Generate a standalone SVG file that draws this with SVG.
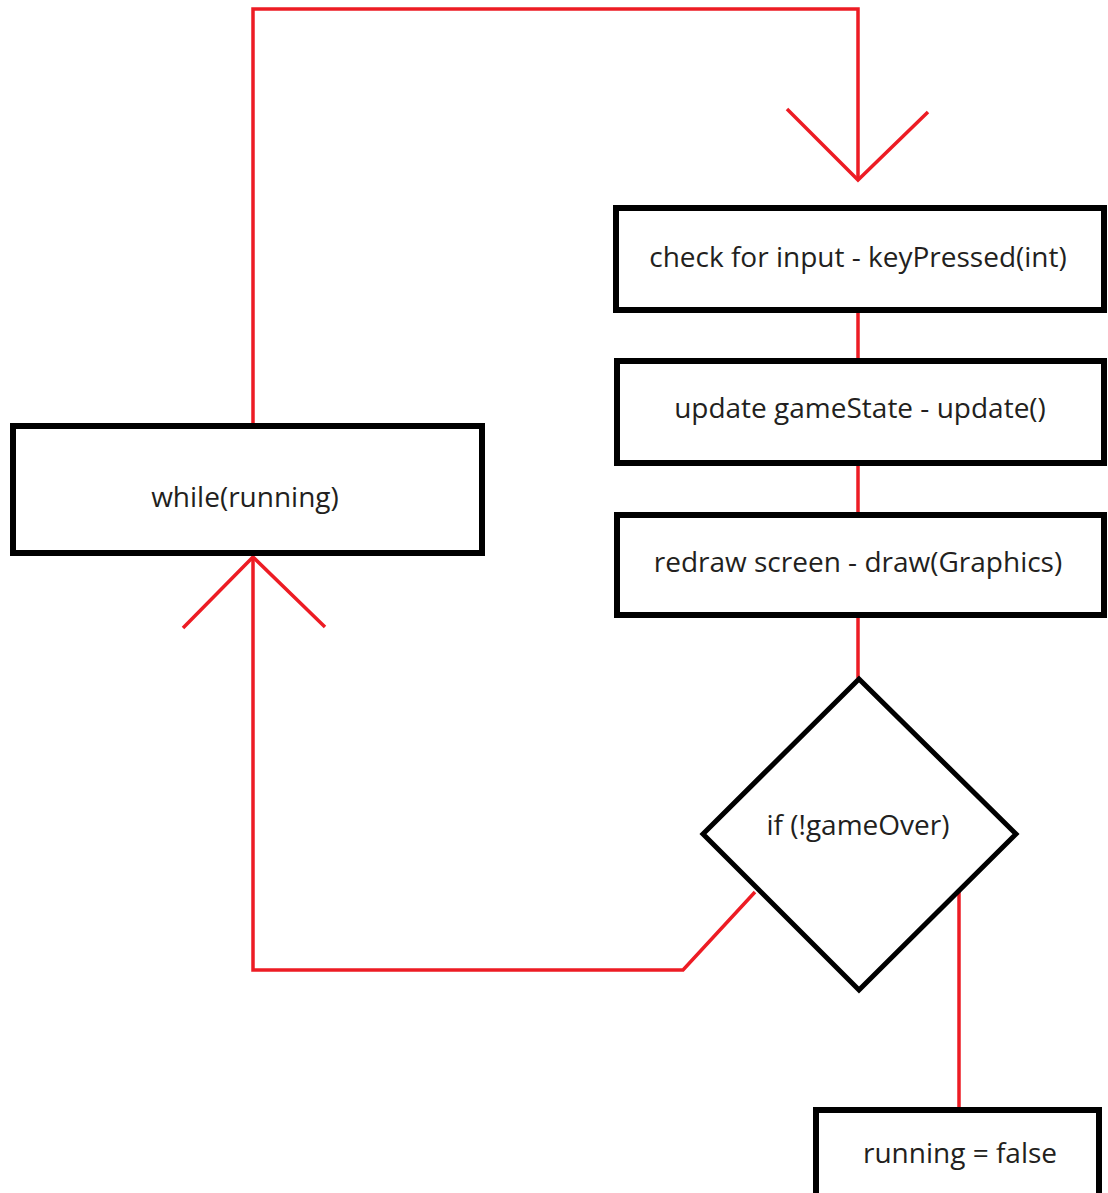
<svg xmlns="http://www.w3.org/2000/svg" width="1108" height="1193" viewBox="0 0 1108 1193">
<style>
.box{fill:#fff;stroke:#000;stroke-width:6}
.dia{fill:#fff;stroke:#000;stroke-width:5}
.lbl{font-family:"Open Sans","Liberation Sans",sans-serif;font-size:28px;fill:#231f20;text-anchor:middle}
.con{fill:none;stroke:#ed1c24;stroke-width:3.5}
</style>
<rect width="1108" height="1193" fill="#fff"/>
<g id="connectors">
<polyline class="con" points="253,426 253,9 858,9 858,180"/>
<polyline class="con" points="787,109 858,180 928,112"/>
<line class="con" x1="858" y1="310" x2="858" y2="361"/>
<line class="con" x1="858" y1="463" x2="858" y2="515"/>
<line class="con" x1="858" y1="615" x2="858" y2="678"/>
<polyline class="con" points="755,892 683,970 253,970 253,557"/>
<polyline class="con" points="183,628 253,557 325,627"/>
<line class="con" x1="959" y1="890" x2="959" y2="1110"/>
</g>
<g id="node-while">
<rect class="box" x="13" y="426" width="469" height="127"/>
<text class="lbl" x="245" y="507">while(running)</text>
</g>
<g id="node-input">
<rect class="box" x="616" y="208" width="488" height="102"/>
<text class="lbl" x="858" y="267">check for input - keyPressed(int)</text>
</g>
<g id="node-update">
<rect class="box" x="617" y="361" width="487" height="102"/>
<text class="lbl" x="860" y="418">update gameState - update()</text>
</g>
<g id="node-draw">
<rect class="box" x="617" y="515" width="487" height="100"/>
<text class="lbl" x="858" y="572">redraw screen - draw(Graphics)</text>
</g>
<g id="node-if">
<polygon class="dia" points="859,679 1016,834 859,990 703,834"/>
<text class="lbl" x="858" y="835">if (!gameOver)</text>
</g>
<g id="node-false">
<rect class="box" x="816" y="1110" width="283" height="100"/>
<text class="lbl" x="960" y="1163">running = false</text>
</g>
</svg>
